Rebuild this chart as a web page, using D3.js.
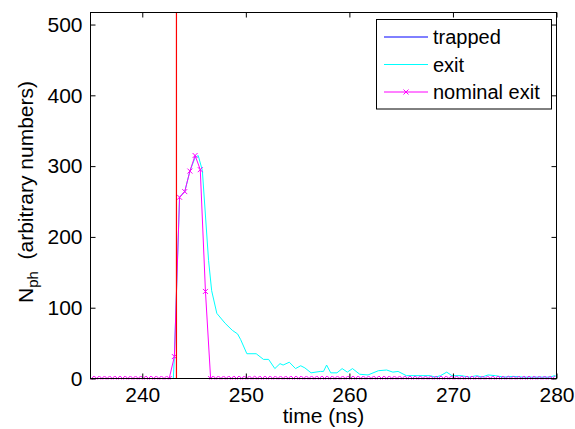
<!doctype html>
<html lang="en">
<head>
<meta charset="utf-8">
<title>Nph vs time</title>
<script src="https://cdn.jsdelivr.net/npm/d3@7"></script>
<style>
  body { margin: 0; background: #fff; }
  text { font-family: "Liberation Sans", Arial, sans-serif; fill: #000; }
</style>
</head>
<body>
<script>

// time axis / tick labels
var xTicks = [240, 250, 260, 270, 280];
var yTicks = [0, 100, 200, 300, 400, 500];

// "trapped" (blue) lies on zero over the whole window
var trappedT = [235, 280];
var trappedN = [0, 0];

// "exit" (cyan)
var exitT = [235, 243.0, 243.1, 243.6, 244.1, 244.6, 245.1, 245.4, 245.8, 246.4, 246.7, 247.2, 248.0, 248.7, 249.2, 249.5,
             250.1, 251.0, 251.7, 252.2, 252.8, 253.3, 253.6, 254.2, 254.8, 255.3, 255.7, 256.3, 257.2, 257.5, 257.8,
             258.2, 258.8, 259.3, 259.8, 260.3, 261.0, 261.8, 262.8, 263.6, 264.2, 264.7, 265.5, 267.8, 268.3, 268.8,
             269.4, 269.9, 270.8, 271.6, 272.3, 272.8, 273.4, 274.1, 274.9, 275.8, 276.8, 278.4, 279.4, 279.8, 280];
var exitN = [0, 0, 31, 256, 264, 293, 312, 315, 294, 167, 124, 92, 78, 68, 63, 55,
             35, 35, 27, 27, 14, 21, 19, 23, 14, 18, 15, 8, 10, 10, 19,
             8, 8, 14, 9, 14, 6, 5, 11, 12, 9, 10, 4, 4, 2, 4,
             9, 4, 4, 2, 4, 2, 5, 4, 2, 3, 2, 2, 2, 4, 3];

// "nominal exit" (magenta, x markers), sampled every 0.5 ns from 235.1 ns
var nominalStart = 235.1, nominalStep = 0.5;
var nominalN = [0, 0, 0, 0, 0, 0, 0, 0, 0, 0, 0, 0, 0, 0, 0, 0,
                31, 256, 264, 293, 315, 295, 123, 0,
                0, 0, 0, 0, 0, 0, 0, 0, 0, 0, 0, 0, 0, 0, 0, 0, 0, 0, 0, 0, 0, 0, 0, 0, 0, 0,
                0, 0, 0, 0, 0, 0, 0, 0, 0, 0, 0, 0, 0, 0, 0, 0, 0, 0, 0, 0, 0, 0, 0, 0, 0, 0,
                0, 0, 0, 0, 0, 0, 0, 0, 0, 0, 0, 0, 0, 0];

// red marker line
var redT = 243.3;

var width = 575, height = 429;
var mL = 90.5, mR = 556.5, mT = 12.5, mB = 378.5;
var fs = 21;

var x = d3.scaleLinear().domain([235, 280]).range([mL, mR]);
var y = d3.scaleLinear().domain([0, 517]).range([mB, mT]);

var svg = d3.select("body").append("svg")
    .attr("width", width).attr("height", height);

svg.append("defs").append("clipPath").attr("id", "clip")
    .append("rect").attr("x", mL).attr("y", mT - 1)
    .attr("width", mR - mL).attr("height", mB - mT + 2);

var plot = svg.append("g").attr("clip-path", "url(#clip)");

var line = d3.line().x(function(d){ return x(d[0]); }).y(function(d){ return y(d[1]); });

plot.append("path")
    .datum(trappedT.map(function(t, i){ return [t, trappedN[i]]; }))
    .attr("d", line).attr("fill", "none").attr("stroke", "#0000ff").attr("stroke-width", 1);

plot.append("path")
    .datum(exitT.map(function(t, i){ return [t, exitN[i]]; }))
    .attr("d", line).attr("fill", "none").attr("stroke", "#00ffff").attr("stroke-width", 1);

var nominal = nominalN.map(function(v, i){ return [nominalStart + i * nominalStep, v]; });

plot.append("path")
    .datum(nominal)
    .attr("d", line).attr("fill", "none").attr("stroke", "#ff00ff").attr("stroke-width", 1);

var s = 2.5;
function cross(cx, cy) {
    return "M" + (cx - s) + "," + (cy - s) + "L" + (cx + s) + "," + (cy + s) +
           "M" + (cx - s) + "," + (cy + s) + "L" + (cx + s) + "," + (cy - s);
}
plot.selectAll(".mk").data(nominal).enter().append("path")
    .attr("class", "mk")
    .attr("d", function(d){ return cross(x(d[0]), y(d[1])); })
    .attr("fill", "none").attr("stroke", "#ff00ff").attr("stroke-width", 1);

plot.append("line")
    .attr("x1", x(redT)).attr("x2", x(redT))
    .attr("y1", y(0)).attr("y2", mT)
    .attr("stroke", "#ff0000").attr("stroke-width", 1.2);

// axes box with inward ticks on all sides
var tl = 5;
svg.append("g").attr("transform", "translate(0," + mB + ")")
    .call(d3.axisBottom(x).tickValues(xTicks).tickSize(-tl).tickSizeOuter(0).tickPadding(9))
    .call(function(g){ g.selectAll("text").attr("font-size", fs).attr("dy", "0.71em"); });
svg.append("g").attr("transform", "translate(0," + mT + ")")
    .call(d3.axisTop(x).tickValues(xTicks).tickSize(-tl).tickSizeOuter(0).tickFormat(""));
svg.append("g").attr("transform", "translate(" + mL + ",0)")
    .call(d3.axisLeft(y).tickValues(yTicks).tickSize(-tl).tickSizeOuter(0).tickPadding(8))
    .call(function(g){ g.selectAll("text").attr("font-size", fs); });
svg.append("g").attr("transform", "translate(" + mR + ",0)")
    .call(d3.axisRight(y).tickValues(yTicks).tickSize(-tl).tickSizeOuter(0).tickFormat(""));

svg.selectAll(".domain").remove();
svg.selectAll(".tick line").attr("stroke", "#000");
svg.selectAll(".tick text").attr("font-family", null);
svg.append("rect").attr("x", mL).attr("y", mT)
    .attr("width", mR - mL).attr("height", mB - mT)
    .attr("fill", "none").attr("stroke", "#000").attr("stroke-width", 1);

// labels
svg.append("text").attr("x", (mL + mR) / 2).attr("y", 423)
    .attr("text-anchor", "middle").attr("font-size", fs).text("time (ns)");

var yl = svg.append("text")
    .attr("transform", "translate(33,192) rotate(-90)")
    .attr("text-anchor", "middle").attr("font-size", fs);
yl.append("tspan").text("N");
yl.append("tspan").attr("font-size", 15).attr("dy", 5).text("ph");
yl.append("tspan").attr("dy", -5).text("\u00a0\u00a0(arbitrary numbers)");

// legend
var lg = svg.append("g");
lg.append("rect").attr("x", 376.5).attr("y", 19.5).attr("width", 175).attr("height", 89.5)
    .attr("fill", "#fff").attr("stroke", "#000").attr("stroke-width", 1);
var entries = [["trapped", "#0000ff", false], ["exit", "#00ffff", false], ["nominal exit", "#ff00ff", true]];
entries.forEach(function(e, i){
    var ly = 37 + i * 27.5;
    lg.append("line").attr("x1", 384).attr("x2", 428).attr("y1", ly).attr("y2", ly)
        .attr("stroke", e[1]).attr("stroke-width", 1);
    if (e[2]) {
        lg.append("path").attr("d", cross(406, ly)).attr("stroke", e[1]).attr("fill", "none");
    }
    lg.append("text").attr("x", 433).attr("y", ly + 7).attr("font-size", 20).text(e[0]);
});

</script>
</body>
</html>
